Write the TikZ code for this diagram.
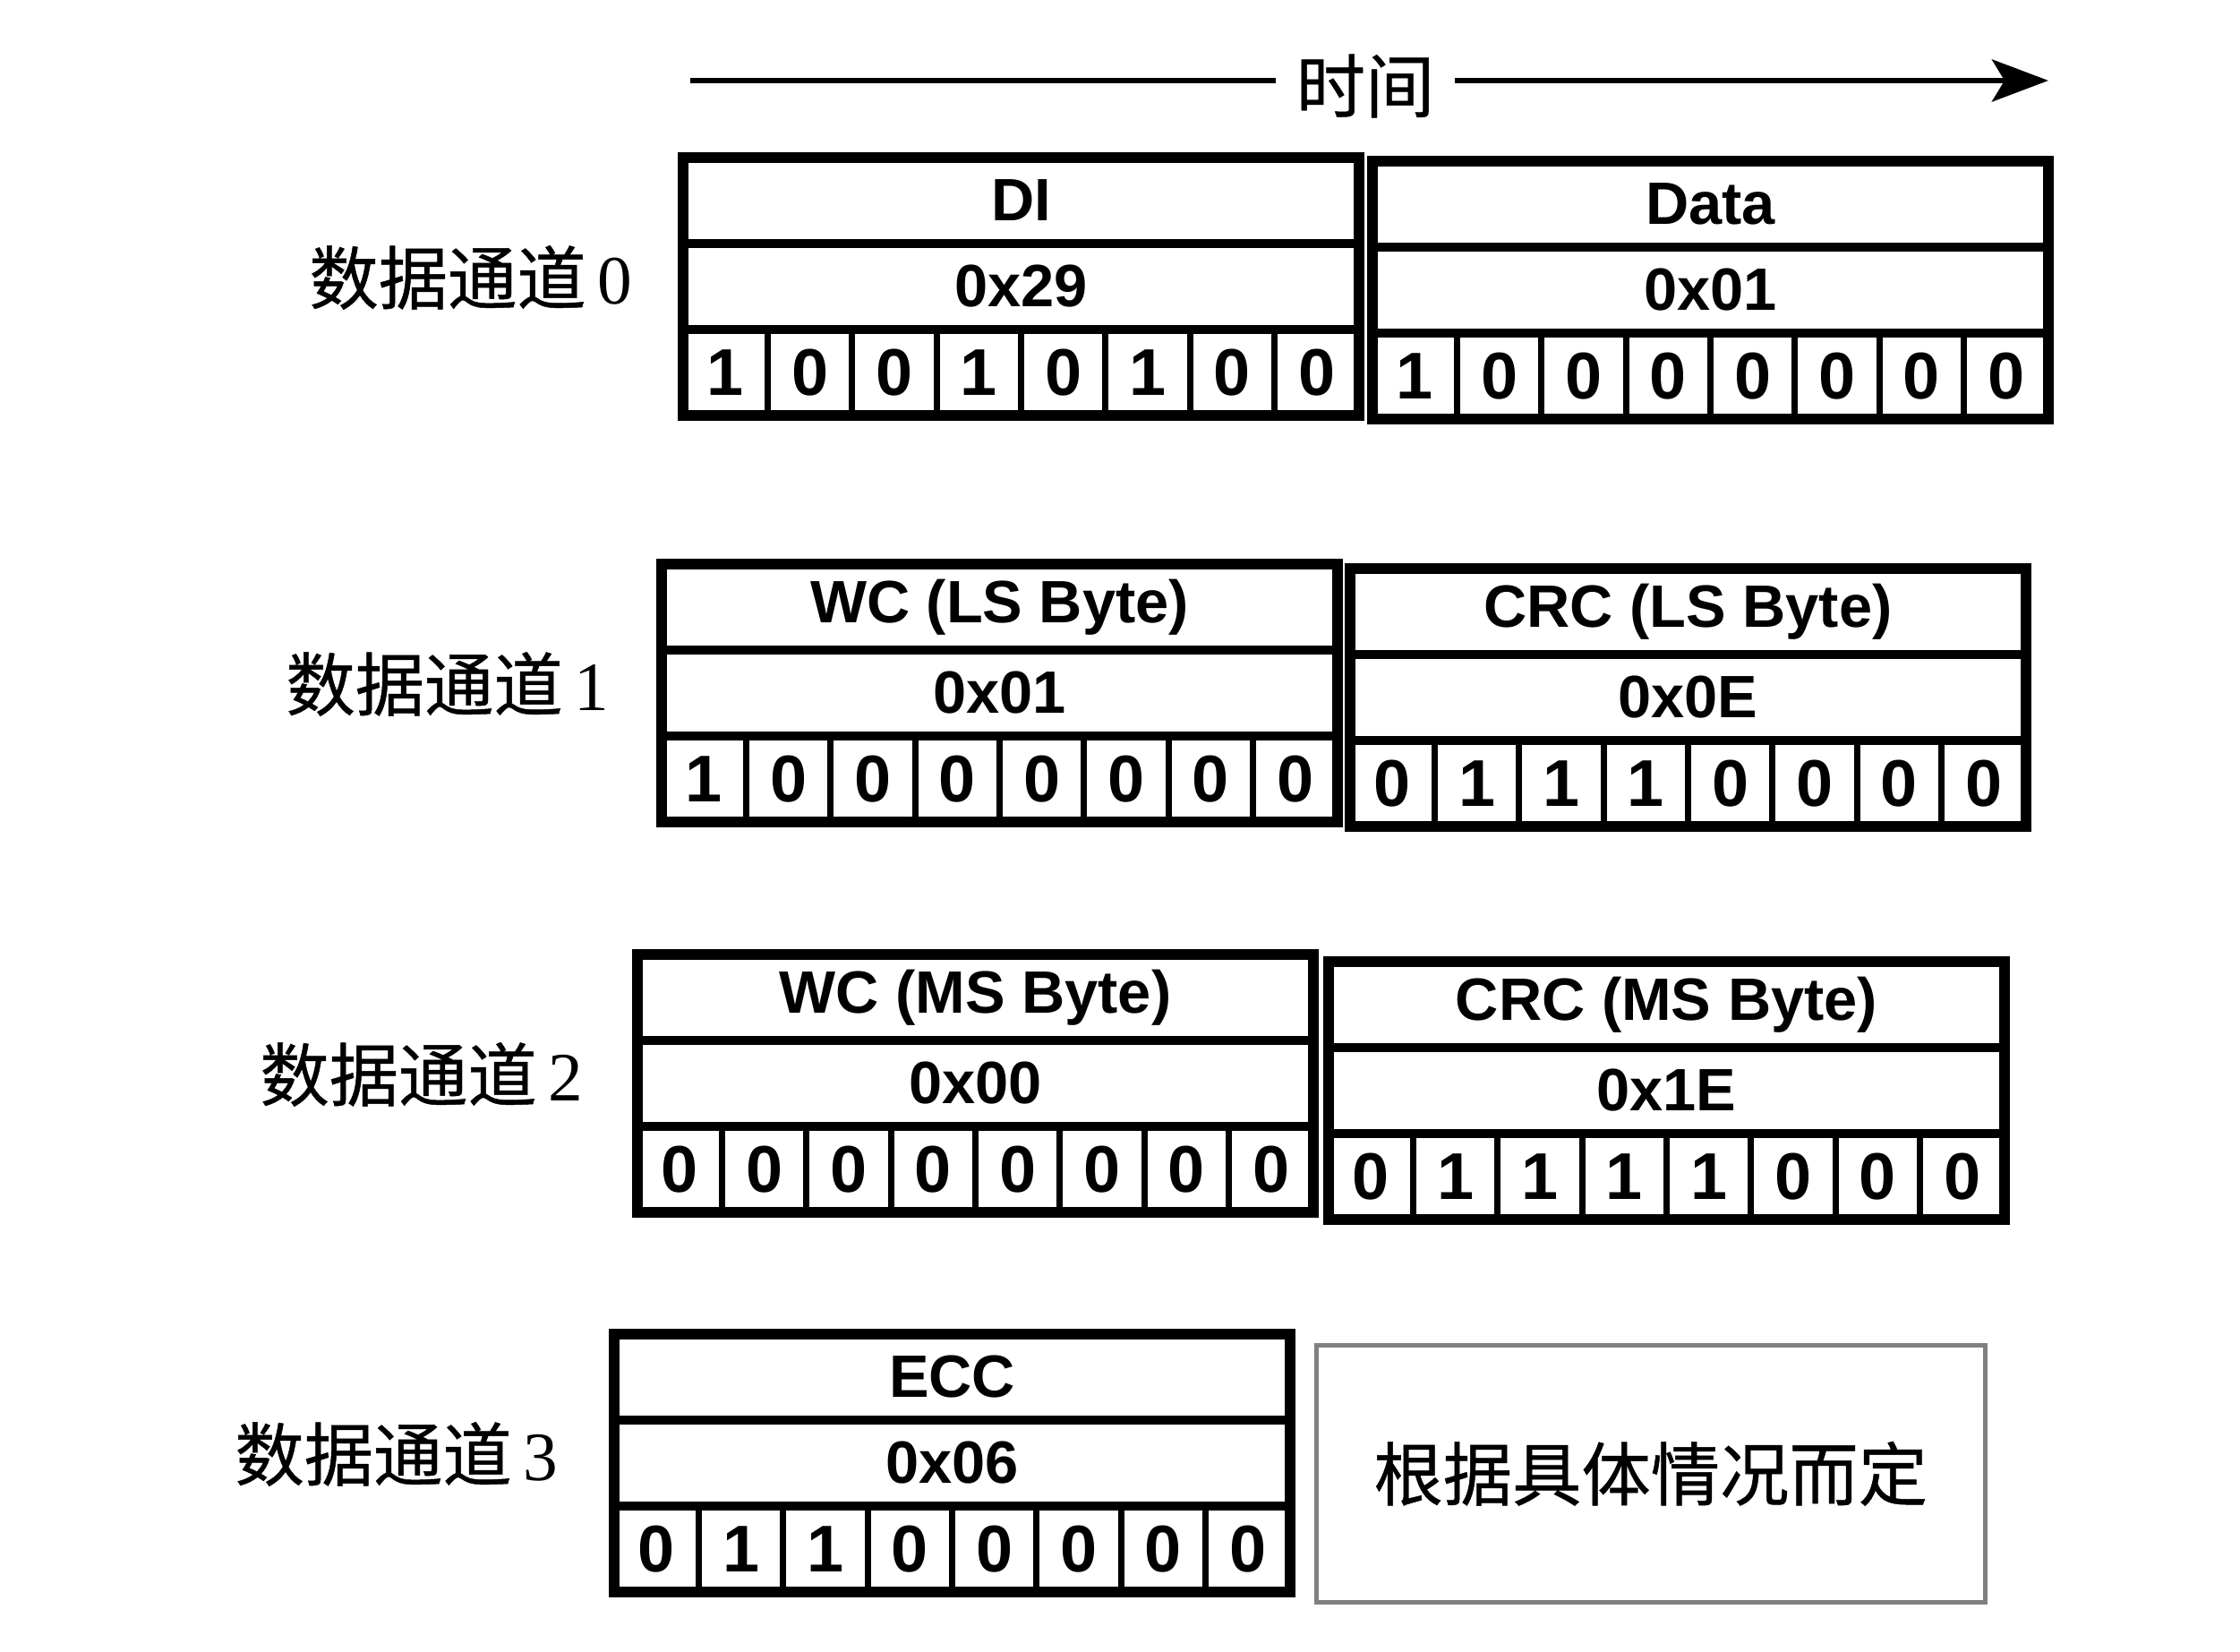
\documentclass[tikz,border=0pt]{standalone}
\usepackage{fontspec}
\setmainfont{Liberation Serif}
\setsansfont{Liberation Sans}
\newfontfamily\cjk[FakeBold=0.6]{Noto Sans CJK SC}
\usetikzlibrary{arrows.meta, positioning}

\begin{document}
\begin{tikzpicture}[y=-1cm,
        field/.style={draw, line width=2.8pt, minimum width=7.55cm, minimum height=0.96cm,
            inner sep=0pt, outer sep=0pt, font=\sffamily\bfseries\fontsize{19}{19}\selectfont},
        bitcell/.style={draw, line width=2pt, minimum width=7.55cm/8, minimum height=0.96cm,
            inner sep=0pt, outer sep=0pt, font=\sffamily\bfseries\fontsize{21}{21}\selectfont},
        frame/.style={draw, line width=3.4pt},
        lanelabel/.style={font=\fontsize{22}{22}\selectfont, inner sep=0pt},
        note/.style={draw=black!50, line width=1.3pt, minimum width=7.47cm, minimum height=2.87cm,
            inner sep=0pt, font=\cjk\fontsize{22}{22}\selectfont}]
        \useasboundingbox (0,0) rectangle (25.02,18.45);

        % time axis
        \coordinate (t0) at (7.71,0.90);
        \coordinate (t1) at (22.88,0.90);
        \node[font=\cjk\fontsize{22}{22}\selectfont, inner sep=0.22cm] (time) at (15.25,0.96) {时间};
        \draw[line width=1.8pt] (t0) -- (t0 -| time.west);
        \draw[line width=1.8pt, -{Stealth[length=0.63cm, width=0.47cm, inset=0.14cm]}] (t1 -| time.east) -- (t1);

        % packet bytes
        \foreach \nm/\x/\y/\ttl/\hex/\bits in {
            di/7.63/1.76/DI/0x29/{1,0,0,1,0,1,0,0},
            data/15.33/1.80/Data/0x01/{1,0,0,0,0,0,0,0},
            wcls/7.39/6.30/WC (LS Byte)/0x01/{1,0,0,0,0,0,0,0},
            crcls/15.08/6.35/CRC (LS Byte)/0x0E/{0,1,1,1,0,0,0,0},
            wcms/7.12/10.66/WC (MS Byte)/0x00/{0,0,0,0,0,0,0,0},
            crcms/14.84/10.74/CRC (MS Byte)/0x1E/{0,1,1,1,1,0,0,0},
            ecc/6.86/14.90/ECC/0x06/{0,1,1,0,0,0,0,0}} {
            \node[field, anchor=north west] (\nm-t) at (\x,\y) {\ttl};
            \node[field, anchor=north] (\nm-h) at (\nm-t.south) {\hex};
            \foreach \b [count=\i] in \bits
                \node[bitcell, anchor=north west, xshift={(\i-1)*7.55cm/8}] (\nm-b\i) at (\nm-h.south west) {\b};
            \draw[frame] (\nm-t.north west) rectangle (\nm-b8.south east);
        }

        \node[note, anchor=north west] (rest) at (14.68,15.00) {根据具体情况而定};

        % lane labels
        \node[lanelabel, left=0.56cm of di-h, yshift=0.1cm] (lane0) {{\cjk 数据通道}\,0};
        \node[lanelabel, left=0.58cm of wcls-h, yshift=0.1cm] (lane1) {{\cjk 数据通道}\,1};
        \node[lanelabel, left=0.60cm of wcms-h, yshift=0.1cm] (lane2) {{\cjk 数据通道}\,2};
        \node[lanelabel, left=0.62cm of ecc-h, yshift=0.1cm] (lane3) {{\cjk 数据通道}\,3};
\end{tikzpicture}
\end{document}
